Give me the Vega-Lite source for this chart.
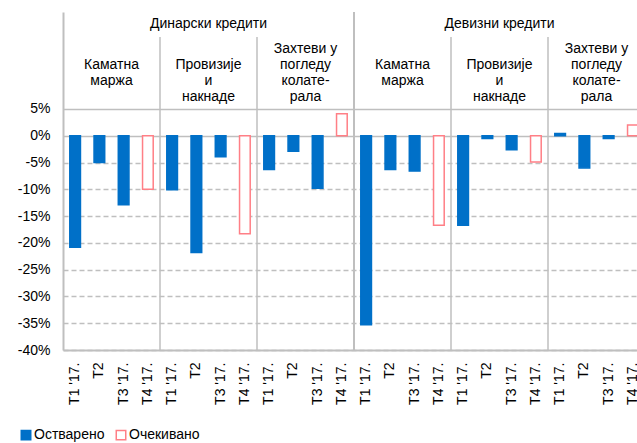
{
  "$schema": "https://vega.github.io/schema/vega-lite/v6.json",
  "width": 574,
  "height": 338,
  "autosize": {"type": "none"},
  "padding": {"left": 63, "top": 12, "right": 0, "bottom": 93},
  "background": "white",
  "config": {
    "view": {"stroke": null},
    "font": "Liberation Sans",
    "text": {"font": "Liberation Sans"},
    "axisY": {
      "title": null,
      "labelFontSize": 14,
      "labelColor": "black",
      "labelFont": "Liberation Sans",
      "labelPadding": 13,
      "labelOverlap": false,
      "ticks": false,
      "domainColor": "#BFBFBF",
      "domainWidth": 2,
      "grid": true,
      "gridColor": "#BFBFBF",
      "gridWidth": 1.5
    }
  },
  "layer": [
    {
      "data": {
        "values": [
          {"cat": "g1|T1 '17.", "type": "Остварено", "value": -20.8},
          {"cat": "g1|T2", "type": "Остварено", "value": -5.0},
          {"cat": "g1|T3 '17.", "type": "Остварено", "value": -12.9},
          {"cat": "g1|T4 '17.", "type": "Очекивано", "value": -10.0},
          {"cat": "g2|T1 '17.", "type": "Остварено", "value": -10.1},
          {"cat": "g2|T2", "type": "Остварено", "value": -21.8},
          {"cat": "g2|T3 '17.", "type": "Остварено", "value": -3.9},
          {"cat": "g2|T4 '17.", "type": "Очекивано", "value": -18.3},
          {"cat": "g3|T1 '17.", "type": "Остварено", "value": -6.3},
          {"cat": "g3|T2", "type": "Остварено", "value": -2.9},
          {"cat": "g3|T3 '17.", "type": "Остварено", "value": -9.8},
          {"cat": "g3|T4 '17.", "type": "Очекивано", "value": 4.1},
          {"cat": "g4|T1 '17.", "type": "Остварено", "value": -35.3},
          {"cat": "g4|T2", "type": "Остварено", "value": -6.3},
          {"cat": "g4|T3 '17.", "type": "Остварено", "value": -6.6},
          {"cat": "g4|T4 '17.", "type": "Очекивано", "value": -16.7},
          {"cat": "g5|T1 '17.", "type": "Остварено", "value": -16.7},
          {"cat": "g5|T2", "type": "Остварено", "value": -0.5},
          {"cat": "g5|T3 '17.", "type": "Остварено", "value": -2.6},
          {"cat": "g5|T4 '17.", "type": "Очекивано", "value": -4.9},
          {"cat": "g6|T1 '17.", "type": "Остварено", "value": 0.4},
          {"cat": "g6|T2", "type": "Остварено", "value": -6.0},
          {"cat": "g6|T3 '17.", "type": "Остварено", "value": -0.5},
          {"cat": "g6|T4 '17.", "type": "Очекивано", "value": 2.0}
        ]
      },
      "mark": {"type": "bar", "strokeWidth": 1.5},
      "encoding": {
        "x": {
          "field": "cat",
          "type": "nominal",
          "sort": null,
          "scale": {"range": [0, 582], "paddingInner": 0.56, "paddingOuter": 0.28},
          "axis": {
            "title": null,
            "labelAngle": -90,
            "labelExpr": "split(datum.value, '|')[1]",
            "ticks": false,
            "labelPadding": 12,
            "labelFontSize": 14,
            "labelColor": "black",
            "labelFont": "Liberation Sans",
            "domainColor": "#BFBFBF",
            "domainWidth": 2,
            "grid": false
          }
        },
        "y": {
          "field": "value",
          "type": "quantitative",
          "scale": {"domain": [-40, 23.1], "nice": false, "zero": false},
          "axis": {
            "values": [-40, -35, -30, -25, -20, -15, -10, -5, 0, 5],
            "labelExpr": "datum.value + '%'",
            "gridDash": {"condition": {"test": "datum.value >= 0", "value": [1, 0]}, "value": [5, 3]}
          }
        },
        "fill": {
          "field": "type",
          "type": "nominal",
          "scale": {"domain": ["Остварено", "Очекивано"], "range": ["#0070C8", "white"]},
          "legend": {
            "title": null,
            "orient": "none",
            "legendX": -44,
            "legendY": 416,
            "direction": "horizontal",
            "symbolType": "square",
            "symbolSize": 90,
            "symbolStrokeWidth": 1.5,
            "labelFontSize": 14,
            "labelFont": "Liberation Sans",
            "labelColor": "black",
            "labelOffset": 1,
            "columnPadding": 8
          }
        },
        "stroke": {
          "field": "type",
          "type": "nominal",
          "scale": {"domain": ["Остварено", "Очекивано"], "range": ["#0070C8", "#FF7F86"]},
          "legend": {
            "title": null,
            "orient": "none",
            "legendX": -44,
            "legendY": 416,
            "direction": "horizontal",
            "symbolType": "square",
            "symbolSize": 90,
            "symbolStrokeWidth": 1.5,
            "labelFontSize": 14,
            "labelFont": "Liberation Sans",
            "labelColor": "black",
            "labelOffset": 1,
            "columnPadding": 8
          }
        }
      }
    },
    {
      "data": {"values": [{"boundary": 1}, {"boundary": 2}, {"boundary": 4}, {"boundary": 5}]},
      "mark": {"type": "rule", "color": "#BFBFBF", "strokeWidth": 1.5},
      "encoding": {
        "x": {"field": "boundary", "type": "quantitative", "scale": {"domain": [0, 6], "range": [0, 582], "nice": false, "zero": false}, "axis": null},
        "y": {"datum": 18.44, "type": "quantitative", "axis": {
            "values": [-40, -35, -30, -25, -20, -15, -10, -5, 0, 5],
            "labelExpr": "datum.value + '%'",
            "gridDash": {"condition": {"test": "datum.value >= 0", "value": [1, 0]}, "value": [5, 3]}
          }},
        "y2": {"datum": -40}
      }
    },
    {
      "data": {"values": [{"boundary": 3}]},
      "mark": {"type": "rule", "color": "#BFBFBF", "strokeWidth": 2},
      "encoding": {
        "x": {"field": "boundary", "type": "quantitative", "scale": {"domain": [0, 6], "range": [0, 582], "nice": false, "zero": false}, "axis": null},
        "y": {"datum": 23.1, "type": "quantitative", "axis": {
            "values": [-40, -35, -30, -25, -20, -15, -10, -5, 0, 5],
            "labelExpr": "datum.value + '%'",
            "gridDash": {"condition": {"test": "datum.value >= 0", "value": [1, 0]}, "value": [5, 3]}
          }},
        "y2": {"datum": -40}
      }
    },
    {
      "data": {"values": [{"label": "Динарски кредити", "center": 1.5}, {"label": "Девизни кредити", "center": 4.5}]},
      "mark": {"type": "text", "fontSize": 14, "color": "black", "baseline": "middle", "align": "center"},
      "encoding": {
        "x": {"field": "center", "type": "quantitative", "scale": {"domain": [0, 6], "range": [0, 582], "nice": false, "zero": false}, "axis": null},
        "y": {"datum": 20.87, "type": "quantitative", "axis": {
            "values": [-40, -35, -30, -25, -20, -15, -10, -5, 0, 5],
            "labelExpr": "datum.value + '%'",
            "gridDash": {"condition": {"test": "datum.value >= 0", "value": [1, 0]}, "value": [5, 3]}
          }},
        "text": {"field": "label"}
      }
    },
    {
      "data": {
        "values": [
          {"label": "\n\nКаматна\nмаржа", "center": 0.5},
          {"label": "\nПровизије\nи\nнакнаде", "center": 1.5},
          {"label": "Захтеви  у\nпогледу\nколате-\nрала", "center": 2.5},
          {"label": "\n\nКаматна\nмаржа", "center": 3.5},
          {"label": "\nПровизије\nи\nнакнаде", "center": 4.5},
          {"label": "Захтеви  у\nпогледу\nколате-\nрала", "center": 5.5}
        ]
      },
      "mark": {"type": "text", "fontSize": 14, "color": "black", "baseline": "bottom", "align": "center", "lineBreak": "\n", "lineHeight": 16},
      "encoding": {
        "x": {"field": "center", "type": "quantitative", "scale": {"domain": [0, 6], "range": [0, 582], "nice": false, "zero": false}, "axis": null},
        "y": {"datum": 14.89, "type": "quantitative", "axis": {
            "values": [-40, -35, -30, -25, -20, -15, -10, -5, 0, 5],
            "labelExpr": "datum.value + '%'",
            "gridDash": {"condition": {"test": "datum.value >= 0", "value": [1, 0]}, "value": [5, 3]}
          }},
        "text": {"field": "label"}
      }
    }
  ],
  "resolve": {"scale": {"x": "independent"}}
}
